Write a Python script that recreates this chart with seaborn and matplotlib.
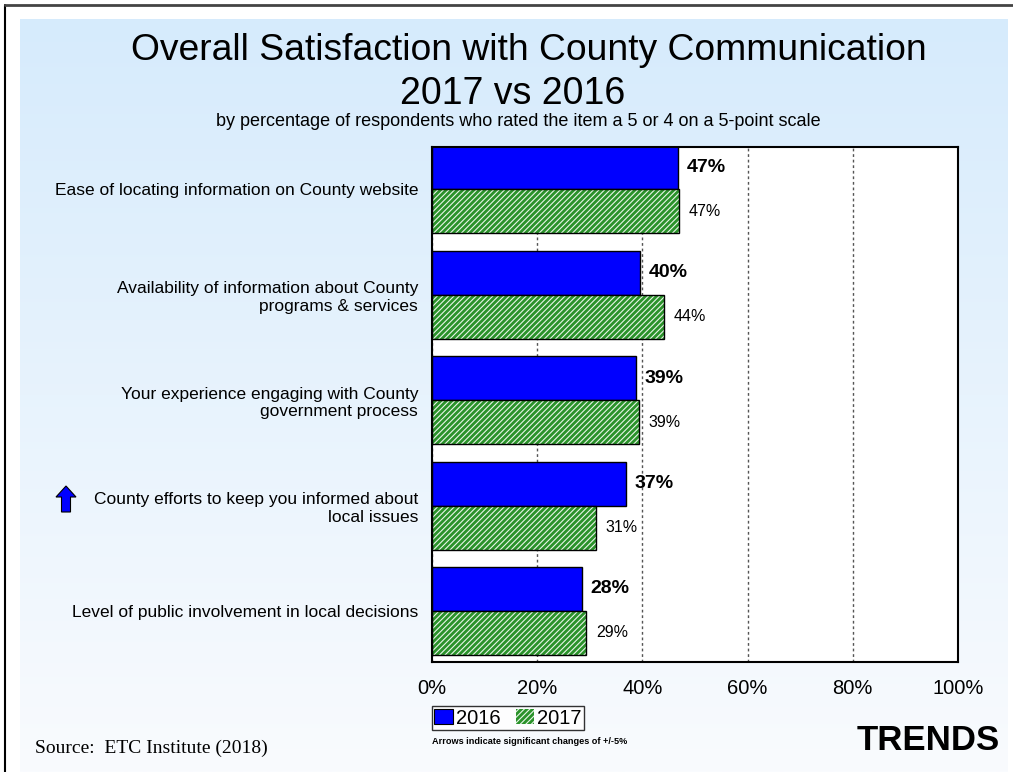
import numpy as np
import pandas as pd
import matplotlib
matplotlib.use("Agg")
import matplotlib.pyplot as plt
import seaborn as sns
from matplotlib.patches import Rectangle, FancyArrow
from matplotlib.lines import Line2D

items = [
    "Ease of locating information on County website",
    "Availability of information about County\nprograms & services",
    "Your experience engaging with County\ngovernment process",
    "County efforts to keep you informed about\nlocal issues",
    "Level of public involvement in local decisions",
]
years = ["2016", "2017"]
vals_2016 = [46.8, 39.6, 38.8, 36.9, 28.5]
vals_2017 = [47.0, 44.1, 39.3, 31.2, 29.3]
labels_2016 = ["47%", "40%", "39%", "37%", "28%"]
labels_2017 = ["47%", "44%", "39%", "31%", "29%"]
xticks = [0, 20, 40, 60, 80, 100]

df = pd.DataFrame({
    "item": items * 2,
    "year": ["2016"] * 5 + ["2017"] * 5,
    "value": vals_2016 + vals_2017,
})

sns.set_style("white")
plt.rcParams["font.family"] = ["Liberation Sans", "DejaVu Sans"]
plt.rcParams["hatch.linewidth"] = 0.8
for k in ["text.color", "axes.labelcolor", "xtick.color", "ytick.color"]:
    plt.rcParams[k] = "black"

W, H = 1013, 772
fig = plt.figure(figsize=(W / 100, H / 100), dpi=100)
fig.patch.set_facecolor("white")

# background gradient
bg = fig.add_axes([20 / W, 0, (1008 - 20) / W, (H - 19) / H], zorder=-5)
grad = np.linspace(0, 1, 256)[:, None]
top = np.array([214, 235, 252]) / 255
bot = np.array([249, 251, 254]) / 255
img = top[None, None, :] * (1 - grad[:, :, None]) + bot[None, None, :] * grad[:, :, None]
bg.imshow(img, aspect="auto", extent=[0, 1, 0, 1])
bg.axis("off")

# outer frame lines
fig.add_artist(Line2D([5 / W, 5 / W], [0, 1 - 5 / H], color="black", lw=1.5))
fig.add_artist(Line2D([5 / W, 1], [1 - 5 / H, 1 - 5 / H], color="#444444", lw=2))

ax = fig.add_axes([432 / W, (H - 662) / H, 526 / W, (662 - 147) / H])
ax.set_facecolor("white")

sns.barplot(data=df, y="item", x="value", hue="year", hue_order=years,
            palette={"2016": "#0000FF", "2017": "#2A922A"}, saturation=1,
            width=0.835, edgecolor="black", linewidth=1, orient="h",
            legend=False, ax=ax)

# hatch the 2017 bars (light stripes, black outline on top)
for p in ax.containers[1]:
    p.set_hatch("//////")
    p.set_edgecolor("#E8F5E8")
    p.set_linewidth(0)
    ax.add_patch(Rectangle(p.get_xy(), p.get_width(), p.get_height(),
                           fill=False, edgecolor="black", lw=1, zorder=p.get_zorder() + 0.1))

ax.bar_label(ax.containers[0], labels=labels_2016, padding=6,
             fontsize=14, fontweight="bold")
ax.bar_label(ax.containers[1], labels=labels_2017, padding=7, fontsize=11.5)

ax.set_xlim(0, 100)
ax.set_ylim(4.484, -0.403)
ax.set_xticks(xticks)
ax.set_xticklabels([f"{t}%" for t in xticks], fontsize=14.5)
ax.tick_params(axis="x", length=0, pad=12)
ax.tick_params(axis="y", length=0, pad=10, labelsize=12.5)
ax.set_xlabel("")
ax.set_ylabel("")
ax.xaxis.grid(True, linestyle=(0, (2, 2)), color="#555555", lw=1)
ax.set_axisbelow(True)
for s in ax.spines.values():
    s.set_visible(True)
    s.set_color("black")
    s.set_linewidth(1.5)

# legend
h1 = Rectangle((0, 0), 1, 1, facecolor="#0000FF", edgecolor="black", lw=0.8)
h2 = Rectangle((0, 0), 1, 1, facecolor="#2A922A", edgecolor="#E8F5E8", lw=0, hatch="//////")
leg = fig.legend([h1, h2], years, loc="center left",
                 bbox_to_anchor=(432 / W, 1 - 718 / H), ncol=2, fontsize=14.5,
                 handlelength=0.9, handleheight=0.7, handletextpad=0.15,
                 columnspacing=0.8, borderpad=0.12, borderaxespad=0,
                 frameon=True, fancybox=False)
leg.get_frame().set_edgecolor("black")
leg.get_frame().set_linewidth(1)

# titles
fig.text(529 / W, 1 - 50 / H, "Overall Satisfaction with County Communication",
         ha="center", va="center", fontsize=26.8)
fig.text(513 / W, 1 - 94 / H, "2017 vs 2016", ha="center", va="center", fontsize=27)
fig.text(518 / W, 1 - 122 / H,
         "by percentage of respondents who rated the item a 5 or 4 on a 5-point scale",
         ha="center", va="center", fontsize=13)

fig.text(432 / W, 1 - 742 / H, "Arrows indicate significant changes of +/-5%",
         ha="left", va="center", fontsize=6.6, fontweight="bold")
fig.text(1000 / W, 1 - 740 / H, "TRENDS", ha="right", va="center",
         fontsize=25, fontweight="bold")
fig.text(35 / W, 1 - 748 / H, "Source:  ETC Institute (2018)", ha="left", va="center",
         fontsize=14, family=["Liberation Serif", "DejaVu Serif"])

# significance arrow
fig.add_artist(FancyArrow(66 / W, 1 - 512 / H, 0, 26 / H, width=9 / W,
                          head_width=20 / W, head_length=11 / H,
                          length_includes_head=True, transform=fig.transFigure,
                          facecolor="#0000FF", edgecolor="black", lw=0.8))

fig.savefig("out.png", dpi=100)
